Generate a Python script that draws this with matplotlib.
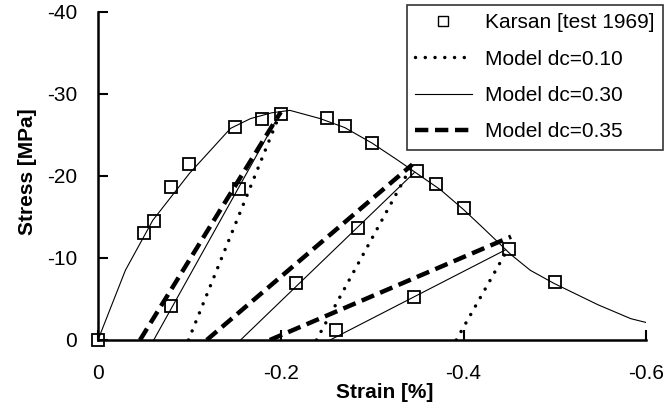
import numpy as np
import matplotlib
matplotlib.use('Agg')
import matplotlib.pyplot as plt
from matplotlib.lines import Line2D

plt.rcParams['font.family'] = ['Liberation Sans', 'DejaVu Sans']

# Karsan test data (strain %, stress MPa)
test_strain = [0.0, -0.050, -0.061, -0.080, -0.100, -0.150, -0.180, -0.200, -0.251,
               -0.270, -0.300, -0.349, -0.370, -0.400, -0.450, -0.500,
               -0.154, -0.080, -0.217, -0.284, -0.346, -0.260]
test_stress = [0.0, -13.1, -14.5, -18.6, -21.5, -26.0, -27.0, -27.5, -27.1,
               -26.1, -24.0, -20.6, -19.0, -16.1, -11.1, -7.1,
               -18.4, -4.1, -7.0, -13.7, -5.3, -1.2]

# envelope curve of the model
env_strain = [0.0, -0.030, -0.060, -0.100, -0.145, -0.167, -0.190, -0.210, -0.243,
              -0.270, -0.300, -0.327, -0.349, -0.375, -0.400, -0.422, -0.437, -0.452,
              -0.473, -0.499, -0.547, -0.583, -0.601]
env_stress = [0.0, -8.5, -14.6, -20.3, -25.8, -27.0, -27.7, -28.0, -27.0,
              -25.9, -24.0, -22.0, -20.3, -18.3, -15.9, -13.6, -12.0, -10.4,
              -8.5, -6.9, -4.3, -2.6, -2.1]

# unloading branches: (strain at zero stress, strain at top, stress at top)
unload_010 = [(-0.099, -0.200, -27.8), (-0.239, -0.342, -21.0), (-0.392, -0.448, -11.0)]
unload_030 = [(-0.061, -0.200, -27.8), (-0.156, -0.346, -20.4), (-0.254, -0.446, -11.0)]
unload_035 = [(-0.046, -0.200, -27.8), (-0.119, -0.344, -21.4), (-0.188, -0.452, -12.6)]

fig = plt.figure(figsize=(6.66, 4.05), dpi=100)
ax = fig.add_axes([0.1471, 0.1605, 0.8234, 0.81])

dot_style = dict(color='black', lw=2.5, linestyle=(0, (0.01, 2.8)), dash_capstyle='round')
solid_style = dict(color='black', lw=0.8, linestyle='-')
dash_style = dict(color='black', lw=3.2, linestyle=(0, (3.0, 1.5)))

ax.plot(env_strain, env_stress, **solid_style)
for e0, e1, s1 in unload_010:
    ax.plot([e0, e1], [0, s1], **dot_style)
for e0, e1, s1 in unload_030:
    ax.plot([e0, e1], [0, s1], **solid_style)
for e0, e1, s1 in unload_035:
    ax.plot([e0, e1], [0, s1], **dash_style)

ax.plot(test_strain, test_stress, 's', ms=8.5, mfc='none', mec='black', mew=1.3,
        clip_on=False, zorder=5)

ax.set_xlim(0, -0.6)
ax.set_ylim(0, -40)
ax.set_xticks([0, -0.2, -0.4, -0.6])
ax.set_xticklabels(['0', '-0.2', '-0.4', '-0.6'])
ax.set_yticks([0, -10, -20, -30, -40])
ax.set_yticklabels(['0', '-10', '-20', '-30', '-40'])
ax.tick_params(direction='in', length=7, width=1.5, labelsize=15)
ax.tick_params(axis='x', pad=17)
ax.tick_params(axis='y', pad=15)
for side in ['top', 'right']:
    ax.spines[side].set_visible(False)
for side in ['left', 'bottom']:
    ax.spines[side].set_linewidth(1.8)

ax.set_xlabel('Strain [%]', fontsize=15, fontweight='bold')
ax.xaxis.set_label_coords(0.522, -0.13)
ax.set_ylabel('Stress [MPa]', fontsize=15, fontweight='bold')
ax.yaxis.set_label_coords(-0.111, 0.512)

handles = [
    Line2D([], [], marker='s', ls='none', ms=7, mfc='none', mec='black', mew=1.0),
    Line2D([], [], **dot_style),
    Line2D([], [], **solid_style),
    Line2D([], [], **dash_style),
]
labels = ['Karsan [test 1969]', 'Model dc=0.10', 'Model dc=0.30', 'Model dc=0.35']
leg = fig.legend(handles, labels, loc='upper left', bbox_to_anchor=(407 / 666, 1 - 5 / 405),
                 fontsize=15, frameon=True, fancybox=False, edgecolor='black',
                 handlelength=2.7, handletextpad=0.65, labelspacing=0.83,
                 borderpad=0.4, borderaxespad=0)
leg.get_frame().set_linewidth(1.2)

fig.savefig('out.png', dpi=100)
